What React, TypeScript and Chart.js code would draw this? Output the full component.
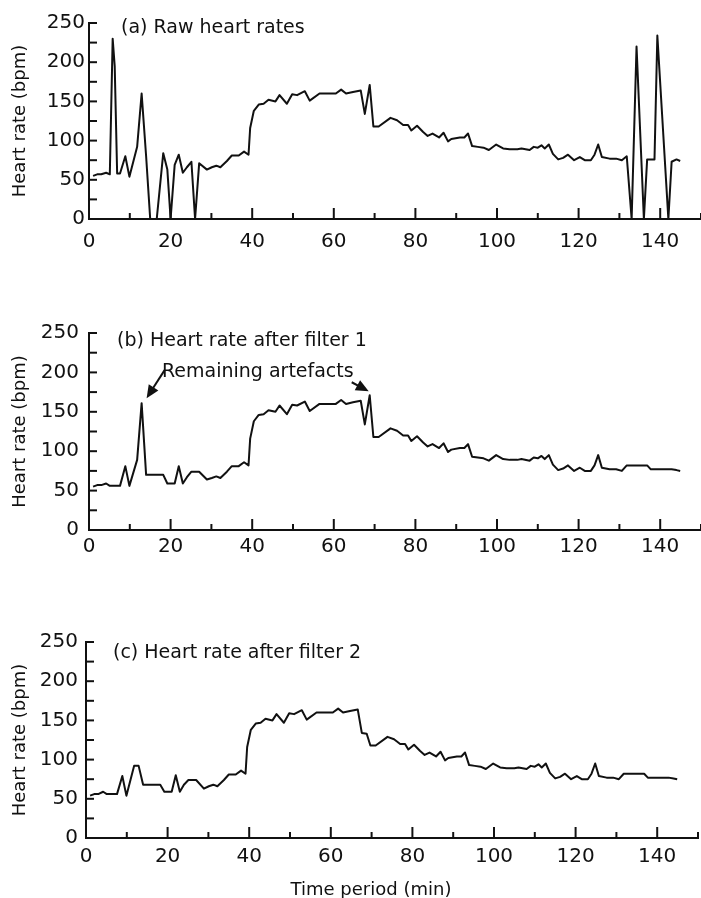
import React, { useEffect, useRef } from 'react';
import { Chart, registerables } from 'chart.js';

Chart.register(...registerables);

// ---- data (time in minutes, heart rate in bpm) ----
const minutes = [
  1, 2, 3, 4.2, 5.1, 5.8, 6.3, 6.9, 7.6, 8.9,
  9.9, 11.8, 12.9, 14, 15, 16.6, 18.2, 19.2, 20, 21,
  22, 23, 24, 25.1, 26, 27, 28.9, 30.1, 31.2, 32.2,
  33.8, 35, 36.7, 38, 39.1, 39.5, 40.4, 41.6, 42.8, 44,
  45.7, 46.7, 48.5, 49.8, 51, 52.9, 54.1, 56.5, 60.5, 61.8,
  63, 64.7, 66.6, 67.6, 68.8, 69.7, 71, 73.9, 75.5, 77,
  78.2, 79, 80.4, 81.9, 83, 84.2, 85.8, 86.9, 88, 88.8,
  90.9, 92, 92.9, 93.9, 95.3, 96.7, 98, 99.8, 101.5, 103.1,
  105, 106, 108, 109, 110, 110.9, 111.7, 112.7, 113.7, 115,
  116.2, 117.4, 118.9, 120.3, 121.5, 123, 123.9, 124.8, 125.7, 127.6,
  129.2, 130.6, 131.8, 133, 134.2, 136, 136.8, 137.7, 138.6, 139.3,
  142, 142.8, 144, 144.9,
];

const rawHR = [
  55, 57, 57, 59, 57, 230, 195, 58, 58, 80,
  54, 92, 160, 80, 0, 0, 84, 63, 0, 69,
  82, 59, 66, 73, 0, 71, 63, 66, 68, 66,
  74, 81, 81, 86, 82, 116, 138, 146, 147, 152,
  150, 158, 147, 159, 158, 163, 151, 160, 160, 165,
  160, 162, 164, 134, 171, 118, 118, 129, 126, 120,
  120, 113, 119, 111, 106, 109, 104, 110, 99, 102,
  104, 104, 109, 93, 92, 91, 88, 95, 90, 89,
  89, 90, 88, 92, 91, 94, 90, 95, 83, 76,
  78, 82, 75, 79, 75, 75, 82, 95, 79, 77,
  77, 75, 80, 0, 220, 0, 76, 76, 76, 234,
  0, 73, 76, 74,
];

const filter1HR = [
  55, 57, 57, 59, 56, 56, 56, 56, 56, 81,
  56, 89, 161, 70, 70, 70, 70, 59, 59, 59,
  81, 59, 67, 74, 74, 74, 64, 66, 68, 66,
  74, 81, 81, 86, 82, 116, 138, 146, 147, 152,
  150, 158, 147, 159, 158, 163, 151, 160, 160, 165,
  160, 162, 164, 134, 171, 118, 118, 129, 126, 120,
  120, 113, 119, 111, 106, 109, 104, 110, 99, 102,
  104, 104, 109, 93, 92, 91, 88, 95, 90, 89,
  89, 90, 88, 92, 91, 94, 90, 95, 83, 76,
  78, 82, 75, 79, 75, 75, 82, 95, 79, 77,
  77, 75, 82, 82, 82, 82, 82, 77, 77, 77,
  77, 77, 76, 75,
];

const filter2HR = [
  54, 56, 56, 59, 56, 56, 56, 56, 56, 79,
  54, 92, 92, 68, 68, 68, 68, 59, 59, 59,
  80, 59, 68, 74, 74, 74, 63, 66, 68, 66,
  74, 81, 81, 86, 82, 116, 138, 146, 147, 152,
  150, 158, 147, 159, 158, 163, 151, 160, 160, 165,
  160, 162, 164, 134, 133, 118, 118, 129, 126, 120,
  120, 113, 119, 111, 106, 109, 104, 110, 99, 102,
  104, 104, 109, 93, 92, 91, 88, 95, 90, 89,
  89, 90, 88, 92, 91, 94, 90, 95, 83, 76,
  78, 82, 75, 79, 75, 75, 82, 95, 79, 77,
  77, 75, 82, 82, 82, 82, 82, 77, 77, 77,
  77, 77, 76, 75,
];

const yTickLabels = [0, 50, 100, 150, 200, 250];
const xTickLabels = [0, 20, 40, 60, 80, 100, 120, 140];
const panelTitles = [
  '(a) Raw heart rates',
  '(b) Heart rate after filter 1',
  '(c) Heart rate after filter 2',
];
const artefactLabel = 'Remaining artefacts';
const artefactIndices = [12, 54];
const yAxisTitle = 'Heart rate (bpm)';
const xAxisTitle = 'Time period (min)';

// ---- style ----
const INK = '#111';
const FONT = '"DejaVu Sans", "Liberation Sans", sans-serif';

type Panel = {
  values: number[];
  title: string;
  top: number;
  height: number;
  padTop: number;
  padRight: number;
  xAxisH: number;
  yAxisW: number;
  xLabelPad: number;
  yLabelPad: number;
  titleDx: number;
  titleDy: number;
  arrows: boolean;
  xTitle: boolean;
};

const panels: Panel[] = [
  { values: rawHR, title: panelTitles[0], top: 0, height: 260, padTop: 23, padRight: 0, xAxisH: 41, yAxisW: 89, xLabelPad: 11, yLabelPad: 4, titleDx: 32, titleDy: 5, arrows: false, xTitle: false },
  { values: filter1HR, title: panelTitles[1], top: 300, height: 260, padTop: 33, padRight: 0, xAxisH: 30, yAxisW: 89, xLabelPad: 5, yLabelPad: 10, titleDx: 28, titleDy: 8.5, arrows: true, xTitle: false },
  { values: filter2HR, title: panelTitles[2], top: 600, height: 298, padTop: 42, padRight: 3, xAxisH: 60, yAxisW: 86, xLabelPad: 7, yLabelPad: 8, titleDx: 27, titleDy: 11.5, arrows: false, xTitle: true },
];

function decorPlugin(p: Panel) {
  return {
    id: 'decor',
    afterDraw(chart: any) {
      const { ctx, chartArea: ca, scales } = chart;
      const x = scales.x;
      const y = scales.y;
      ctx.save();
      ctx.strokeStyle = INK;
      ctx.fillStyle = INK;
      ctx.lineWidth = 2;
      ctx.lineCap = 'butt';
      const seg = (x1: number, y1: number, x2: number, y2: number) => {
        ctx.beginPath();
        ctx.moveTo(x1, y1);
        ctx.lineTo(x2, y2);
        ctx.stroke();
      };
      // inward ticks on y axis
      y.ticks.forEach((t: any) => {
        const py = y.getPixelForValue(t.value);
        seg(ca.left, py, ca.left + 8, py);
      });
      // inward ticks on x axis
      x.ticks.forEach((t: any) => {
        const px = x.getPixelForValue(t.value);
        const len = t.value % 20 === 0 ? 11 : 6;
        seg(px, ca.bottom, px, ca.bottom - len);
      });
      // panel title
      ctx.font = `19px ${FONT}`;
      ctx.textBaseline = 'middle';
      ctx.textAlign = 'left';
      ctx.fillText(p.title, ca.left + p.titleDx, ca.top + p.titleDy);

      if (p.arrows) {
        ctx.fillText(artefactLabel, ca.left + 73, ca.top + 39);
        const arrow = (fx: number, fy: number, tx: number, ty: number) => {
          const a = Math.atan2(ty - fy, tx - fx);
          const hl = 14;
          const hw = 0.42;
          seg(fx, fy, tx - Math.cos(a) * hl * 0.6, ty - Math.sin(a) * hl * 0.6);
          ctx.beginPath();
          ctx.moveTo(tx, ty);
          ctx.lineTo(tx - hl * Math.cos(a - hw), ty - hl * Math.sin(a - hw));
          ctx.lineTo(tx - hl * Math.cos(a + hw), ty - hl * Math.sin(a + hw));
          ctx.closePath();
          ctx.fill();
        };
        const i1 = artefactIndices[0];
        const t1x = x.getPixelForValue(minutes[i1]) + 5;
        const t1y = y.getPixelForValue(p.values[i1]) - 5;
        arrow(t1x + 18, t1y - 28, t1x, t1y);
        const i2 = artefactIndices[1];
        const t2x = x.getPixelForValue(minutes[i2]) - 1;
        const t2y = y.getPixelForValue(p.values[i2]) - 4;
        arrow(t2x - 17, t2y - 9, t2x, t2y);
      }

      if (p.xTitle) {
        ctx.textAlign = 'center';
        ctx.font = `18px ${FONT}`;
        ctx.fillText(xAxisTitle, ca.left + 285, ca.bottom + 52);
      }
      ctx.restore();
    },
  };
}

function ChartPanel({ p }: { p: Panel }) {
  const ref = useRef<HTMLCanvasElement>(null);
  useEffect(() => {
    if (!ref.current) return;
    const chart = new Chart(ref.current, {
      type: 'line',
      data: {
        datasets: [
          {
            data: minutes.map((m, i) => ({ x: m, y: p.values[i] })),
            borderColor: INK,
            borderWidth: 2,
            pointRadius: 0,
            tension: 0,
            fill: false,
            clip: false,
            borderJoinStyle: 'round',
          } as any,
        ],
      },
      options: {
        animation: false,
        responsive: true,
        maintainAspectRatio: false,
        events: [],
        layout: { padding: { top: p.padTop, right: p.padRight, left: 0, bottom: 0 } },
        plugins: { legend: { display: false }, tooltip: { enabled: false } },
        scales: {
          x: {
            type: 'linear',
            min: 0,
            max: 150,
            grid: { display: false, drawTicks: false },
            border: { display: true, color: INK, width: 2 },
            ticks: {
              stepSize: 10,
              autoSkip: false,
              maxRotation: 0,
              padding: p.xLabelPad,
              color: INK,
              font: { family: FONT, size: 20 },
              callback: (v: any) => (xTickLabels.includes(Number(v)) ? String(v) : ''),
            },
            afterFit: (s: any) => {
              s.height = p.xAxisH;
              s.paddingLeft = 0;
              s.paddingRight = 0;
            },
          },
          y: {
            type: 'linear',
            min: 0,
            max: 250,
            grid: { display: false, drawTicks: false },
            border: { display: true, color: INK, width: 2 },
            ticks: {
              stepSize: 25,
              autoSkip: false,
              padding: p.yLabelPad,
              color: INK,
              font: { family: FONT, size: 20 },
              callback: (v: any) => (yTickLabels.includes(Number(v)) ? String(v) : ''),
            },
            title: {
              display: true,
              text: yAxisTitle,
              color: INK,
              font: { family: FONT, size: 18 },
              padding: { top: 10, bottom: 0 },
            },
            afterFit: (s: any) => {
              s.width = p.yAxisW;
              s.paddingTop = 0;
              s.paddingBottom = 0;
            },
          },
        },
      } as any,
      plugins: [decorPlugin(p)],
    });
    return () => chart.destroy();
  }, [p]);
  return (
    <div style={{ position: 'absolute', left: 0, top: p.top, width: 701, height: p.height }}>
      <canvas ref={ref} />
    </div>
  );
}

export default function App() {
  return (
    <div
      style={{
        position: 'absolute',
        left: 0,
        top: 0,
        width: 701,
        height: 898,
        overflow: 'hidden',
        background: '#fff',
      }}
    >
      {panels.map((p, i) => (
        <ChartPanel key={i} p={p} />
      ))}
    </div>
  );
}
